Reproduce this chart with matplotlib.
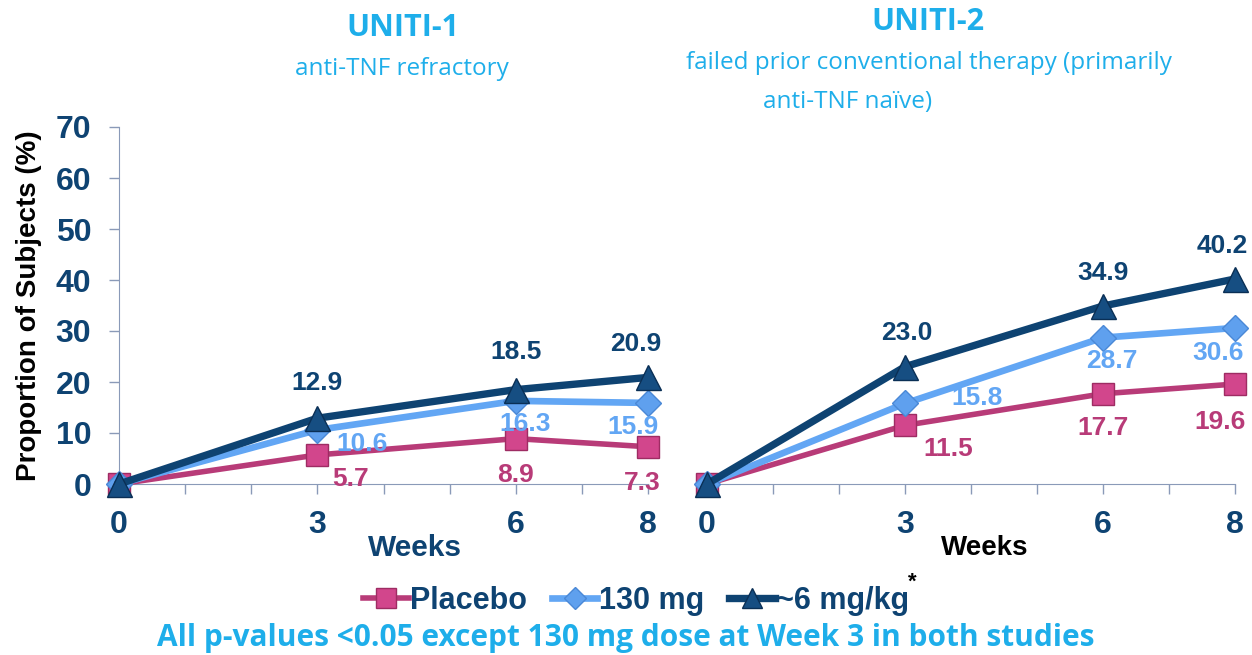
import matplotlib
matplotlib.use("Agg")
import matplotlib.pyplot as plt
from matplotlib.lines import Line2D

weeks = [0, 3, 6, 8]
u1_placebo = [0, 5.7, 8.9, 7.3]
u1_130 = [0, 10.6, 16.3, 15.9]
u1_6 = [0, 12.9, 18.5, 20.9]
u2_placebo = [0, 11.5, 17.7, 19.6]
u2_130 = [0, 15.8, 28.7, 30.6]
u2_6 = [0, 23.0, 34.9, 40.2]
yticks = [0, 10, 20, 30, 40, 50, 60, 70]

NAVY = "#0E4372"
LBLUE = "#62A6F4"
MAG = "#B83B78"
CYAN = "#1EAEEA"
AXC = "#8A9AB8"
AF = "Liberation Sans"
CF = "Open Sans"

fig = plt.figure(figsize=(12.52, 6.55), dpi=100)
axL = fig.add_axes([119/1252, 1-484/655, 529/1252, 357/655])
axR = fig.add_axes([707/1252, 1-484/655, 528/1252, 357/655])

def draw(ax, pl, mg, hi, offs):
    ax.plot(weeks, pl, color=MAG, lw=4, marker='s', ms=16, mfc="#D2468C", mec="#9E2C63", clip_on=False, zorder=3)
    ax.plot(weeks, mg, color=LBLUE, lw=4.8, marker='D', ms=13, mfc="#5FA0EE", mec="#4A88D6", clip_on=False, zorder=4)
    ax.plot(weeks, hi, color=NAVY, lw=5.3, marker='^', ms=18, mfc="#164E82", mec="#0A2F55", clip_on=False, zorder=5)
    for i in range(1, 4):
        for vals, col, key in ((pl, MAG, 'p'), (mg, LBLUE, 'm'), (hi, NAVY, 'h')):
            dx, dy = offs[key][i-1]
            ax.annotate(f"{vals[i]:.1f}", (weeks[i], vals[i]), xytext=(dx, dy), textcoords='offset points',
                        ha='center', va='center', color=col, fontsize=19, fontweight='bold', family=AF, zorder=6)
    ax.set_xlim(0, 8)
    ax.set_ylim(0, 70)
    ax.set_xticks(range(0, 9))
    ax.set_xticklabels(["0", "", "", "3", "", "", "6", "", "8"])
    for s in ("top", "right"):
        ax.spines[s].set_visible(False)
    ax.spines['bottom'].set_color(AXC)
    ax.spines['left'].set_color(AXC)
    ax.tick_params(axis='x', colors=AXC, length=7, width=1, labelcolor=NAVY, labelsize=23, pad=12)
    for t in ax.get_xticklabels():
        t.set_fontweight('bold'); t.set_family(AF)

offsL = {'p': [(24, -17), (0, -26), (-4, -26)],
         'm': [(32, -10), (7, -17), (-11, -17)],
         'h': [(0, 25), (0, 27), (-9, 24)]}
offsR = {'p': [(31, -17), (0, -25), (-11, -27)],
         'm': [(52, 4), (6, -17), (-12, -18)],
         'h': [(1, 24), (0, 24), (-9, 24)]}
draw(axL, u1_placebo, u1_130, u1_6, offsL)
draw(axR, u2_placebo, u2_130, u2_6, offsR)

axL.set_yticks(yticks)
axL.tick_params(axis='y', colors=AXC, length=7, width=1, labelcolor=NAVY, labelsize=23, pad=13)
for t in axL.get_yticklabels():
    t.set_fontweight('bold'); t.set_family(AF)
axR.spines['left'].set_visible(False)
axR.set_yticks([])

axL.set_ylabel("Proportion of Subjects (%)", fontsize=20, fontweight='bold', family=AF, color='black', labelpad=10)

fig.text(415/1252, 1-548/655, "Weeks", ha='center', va='center', fontsize=21.5, fontweight='bold', family=AF, color=NAVY)
fig.text(985/1252, 1-548/655, "Weeks", ha='center', va='center', fontsize=20, fontweight='bold', family=AF, color='black')

fig.text(403/1252, 1-28/655, "UNITI-1", ha='center', va='center', fontsize=22, fontweight='bold', family=CF, color=CYAN)
fig.text(402/1252, 1-69/655, "anti-TNF refractory", ha='center', va='center', fontsize=17.5, family=CF, color=CYAN)
fig.text(928/1252, 1-22/655, "UNITI-2", ha='center', va='center', fontsize=22, fontweight='bold', family=CF, color=CYAN)
fig.text(929/1252, 1-63/655, "failed prior conventional therapy (primarily", ha='center', va='center', fontsize=17.5, family=CF, color=CYAN)
fig.text(848/1252, 1-102/655, "anti-TNF naïve)", ha='center', va='center', fontsize=17.5, family=CF, color=CYAN)

handles = [
    Line2D([], [], color=MAG, lw=4, marker='s', ms=14, mfc="#D2468C", mec="#9E2C63"),
    Line2D([], [], color=LBLUE, lw=4.8, marker='D', ms=11, mfc="#5FA0EE", mec="#4A88D6"),
    Line2D([], [], color=NAVY, lw=5.3, marker='^', ms=15, mfc="#164E82", mec="#0A2F55"),
]
leg = fig.legend(handles, ["Placebo", "130 mg", "~6 mg/kg"], loc='center', bbox_to_anchor=(636/1252, 1-601/655),
                 ncol=3, frameon=False, handlelength=1.5, handletextpad=0.05, columnspacing=0.8,
                 prop={'family': AF, 'weight': 'bold', 'size': 22})
for t in leg.get_texts():
    t.set_color(NAVY)
fig.text(912/1252, 1-582/655, "*", ha='center', va='center', fontsize=16, fontweight='bold', family=AF, color='black')

fig.text(626/1252, 1-638/655, "All p-values <0.05 except 130 mg dose at Week 3 in both studies", ha='center', va='center',
         fontsize=21.5, fontweight='bold', family=CF, color=CYAN)

fig.savefig("out.png", dpi=100)
